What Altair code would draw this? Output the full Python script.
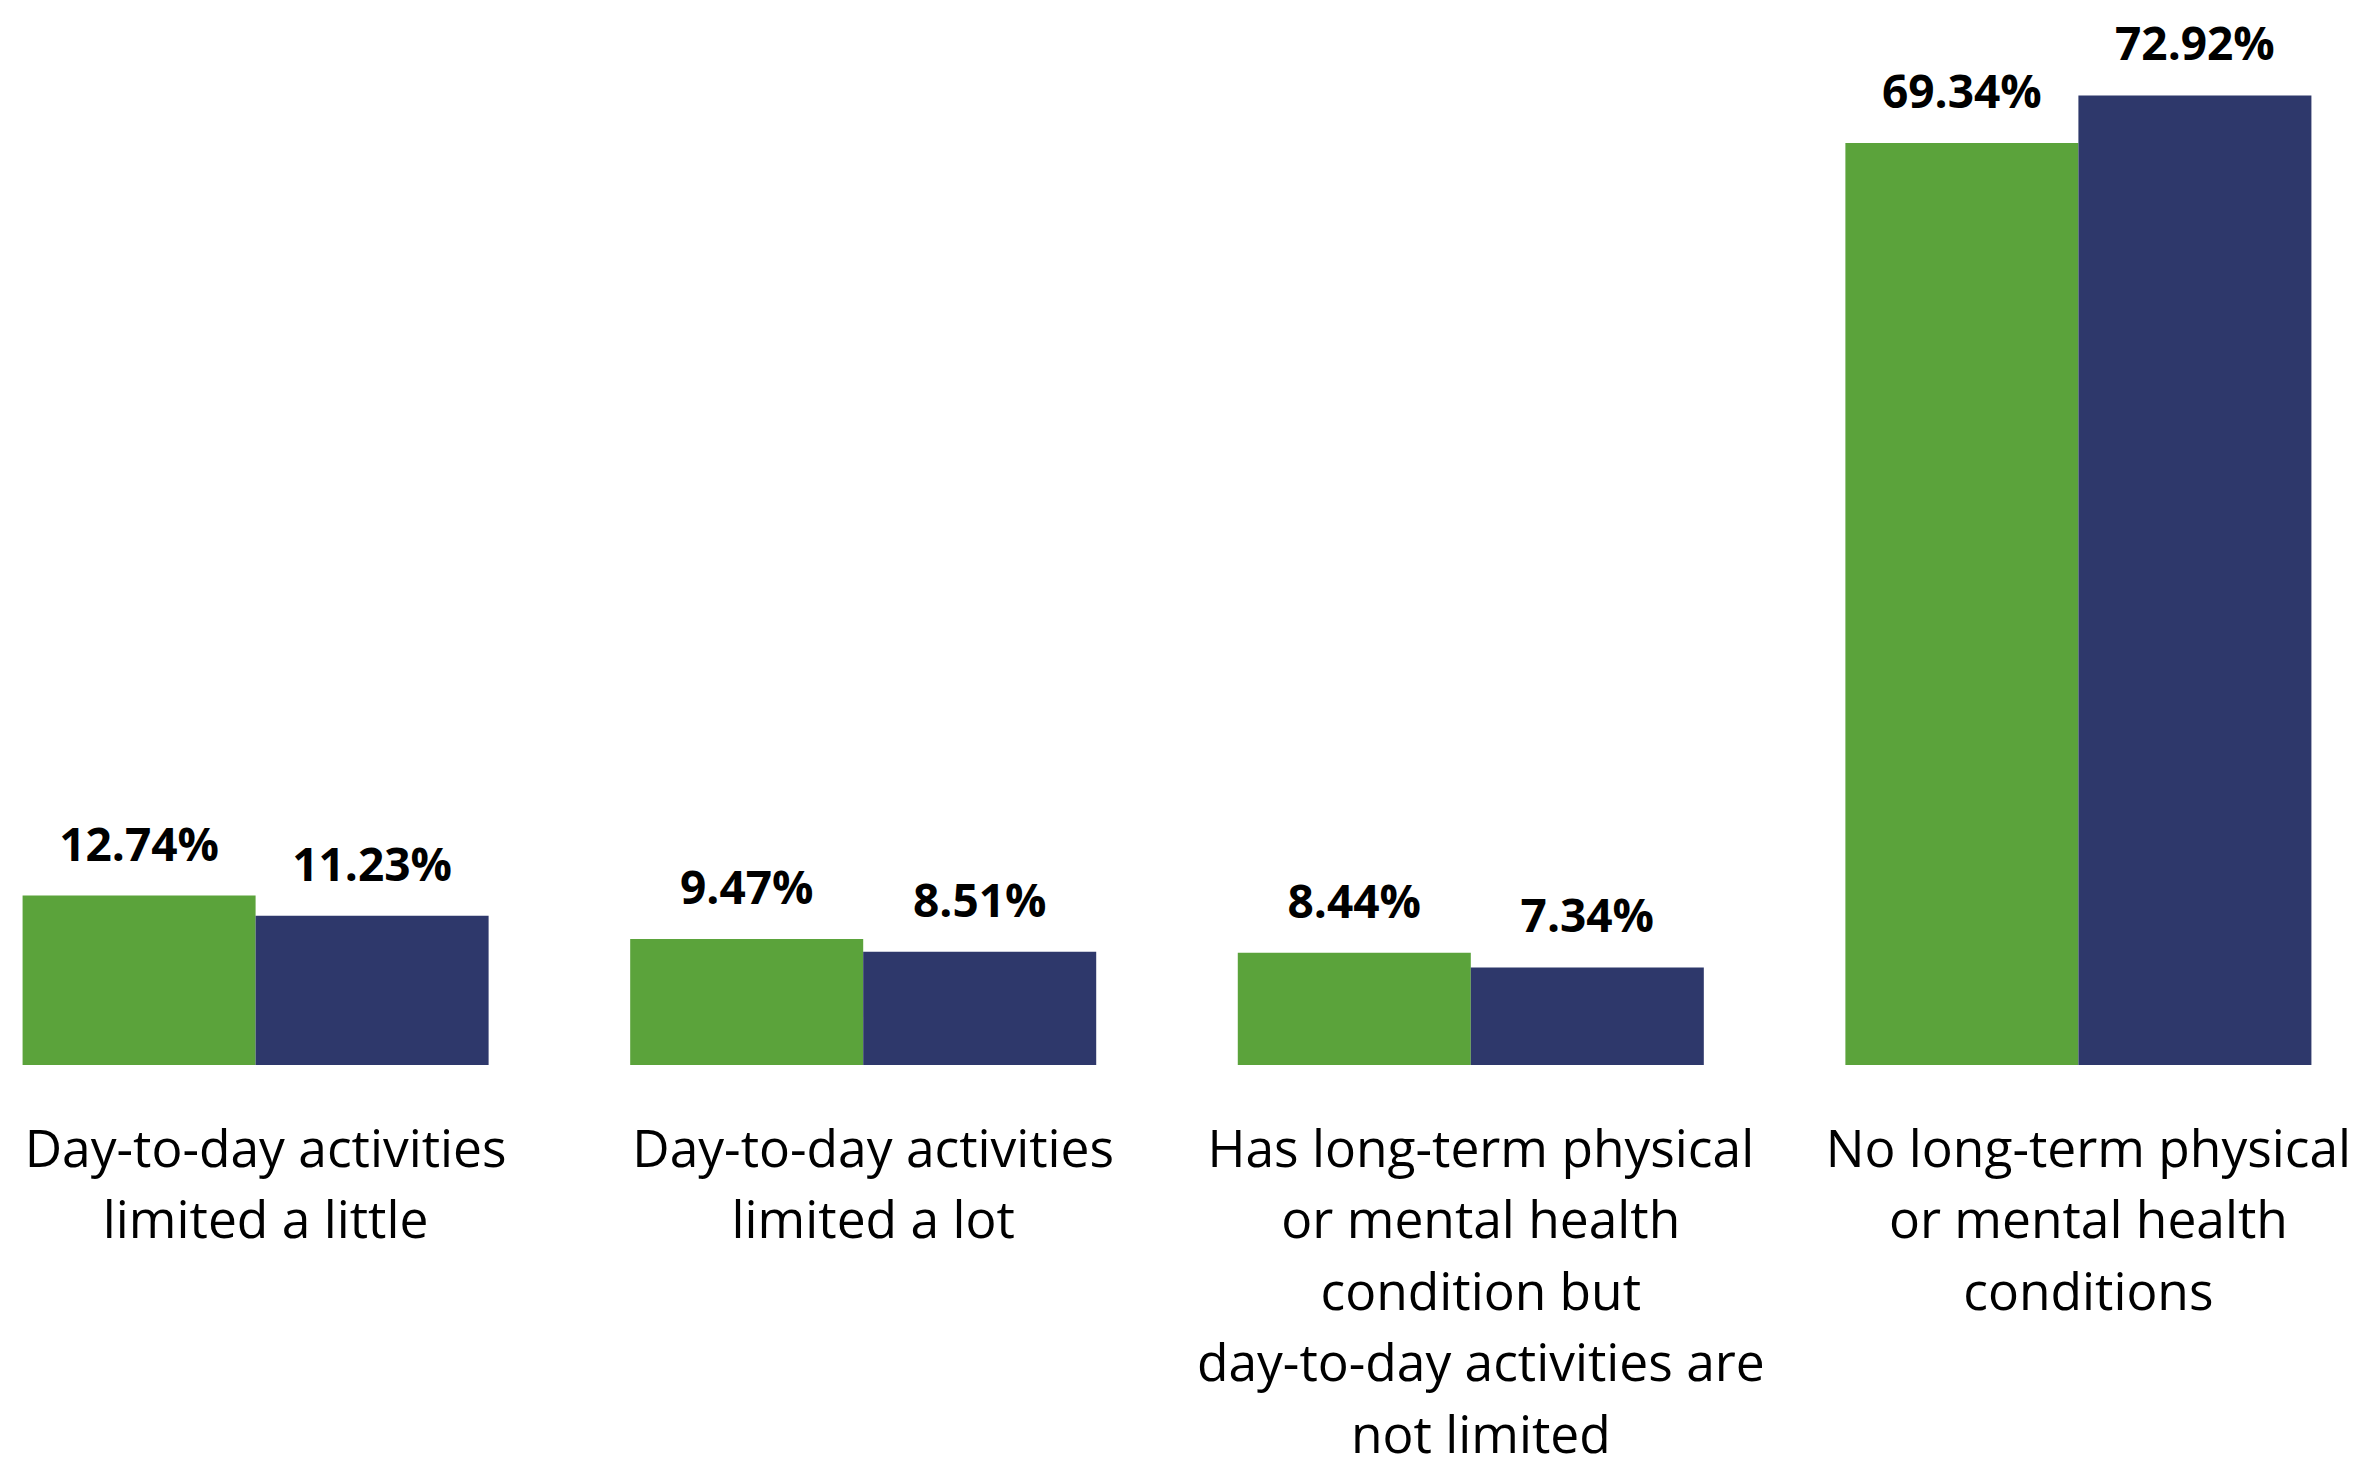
import altair as alt
import pandas as pd

categories = [
    "Day-to-day activities|limited a little",
    "Day-to-day activities|limited a lot",
    "Has long-term physical|or mental health|condition but|day-to-day activities are|not limited",
    "No long-term physical|or mental health|conditions",
]
series = ["Series 1", "Series 2"]
values_s1 = [12.74, 9.47, 8.44, 69.34]
values_s2 = [11.23, 8.51, 7.34, 72.92]
colors = ["#5BA33B", "#2E386B"]

rows = []
for c, v1, v2 in zip(categories, values_s1, values_s2):
    rows.append({"category": c, "series": series[0], "value": v1, "label": f"{v1:.2f}%"})
    rows.append({"category": c, "series": series[1], "value": v2, "label": f"{v2:.2f}%"})
df = pd.DataFrame(rows)

x_enc = alt.X(
    "category:N",
    sort=categories,
    title=None,
    scale=alt.Scale(paddingInner=0.233, paddingOuter=0.024),
    axis=alt.Axis(
        labelAngle=0,
        labelExpr="split(datum.value, '|')",
        labelFont="Open Sans",
        labelFontSize=51.5,
        labelLineHeight=71.5,
        labelColor="#000000",
        labelPadding=60,
        labelOffset=10,
        labelLimit=0,
        domain=False,
        ticks=False,
        grid=False,
    ),
)
xoff = alt.XOffset("series:N", sort=series, scale=alt.Scale(paddingInner=0, paddingOuter=0))
y_enc = alt.Y("value:Q", axis=None, scale=alt.Scale(domain=[0, 79.5], nice=False))

base = alt.Chart(df)

bars = base.mark_bar().encode(
    x=x_enc,
    xOffset=xoff,
    y=y_enc,
    color=alt.Color("series:N", sort=series, scale=alt.Scale(domain=series, range=colors), legend=None),
)

texts = base.mark_text(
    font="Open Sans",
    fontSize=46,
    fontWeight="bold",
    color="#000000",
    baseline="middle",
    dy=-49,
).encode(
    x=alt.X("category:N", sort=categories),
    xOffset=xoff,
    y=y_enc,
    text="label:N",
)

chart = (
    alt.layer(bars, texts)
    .properties(
        width=2318,
        height=1057,
        padding={"left": 0, "top": 0, "right": 0, "bottom": 0},
        background="#FFFFFF",
    )
    .configure_view(stroke=None, strokeWidth=0)
)

chart.save("out.html", embed_options={"renderer": "svg", "actions": False})
